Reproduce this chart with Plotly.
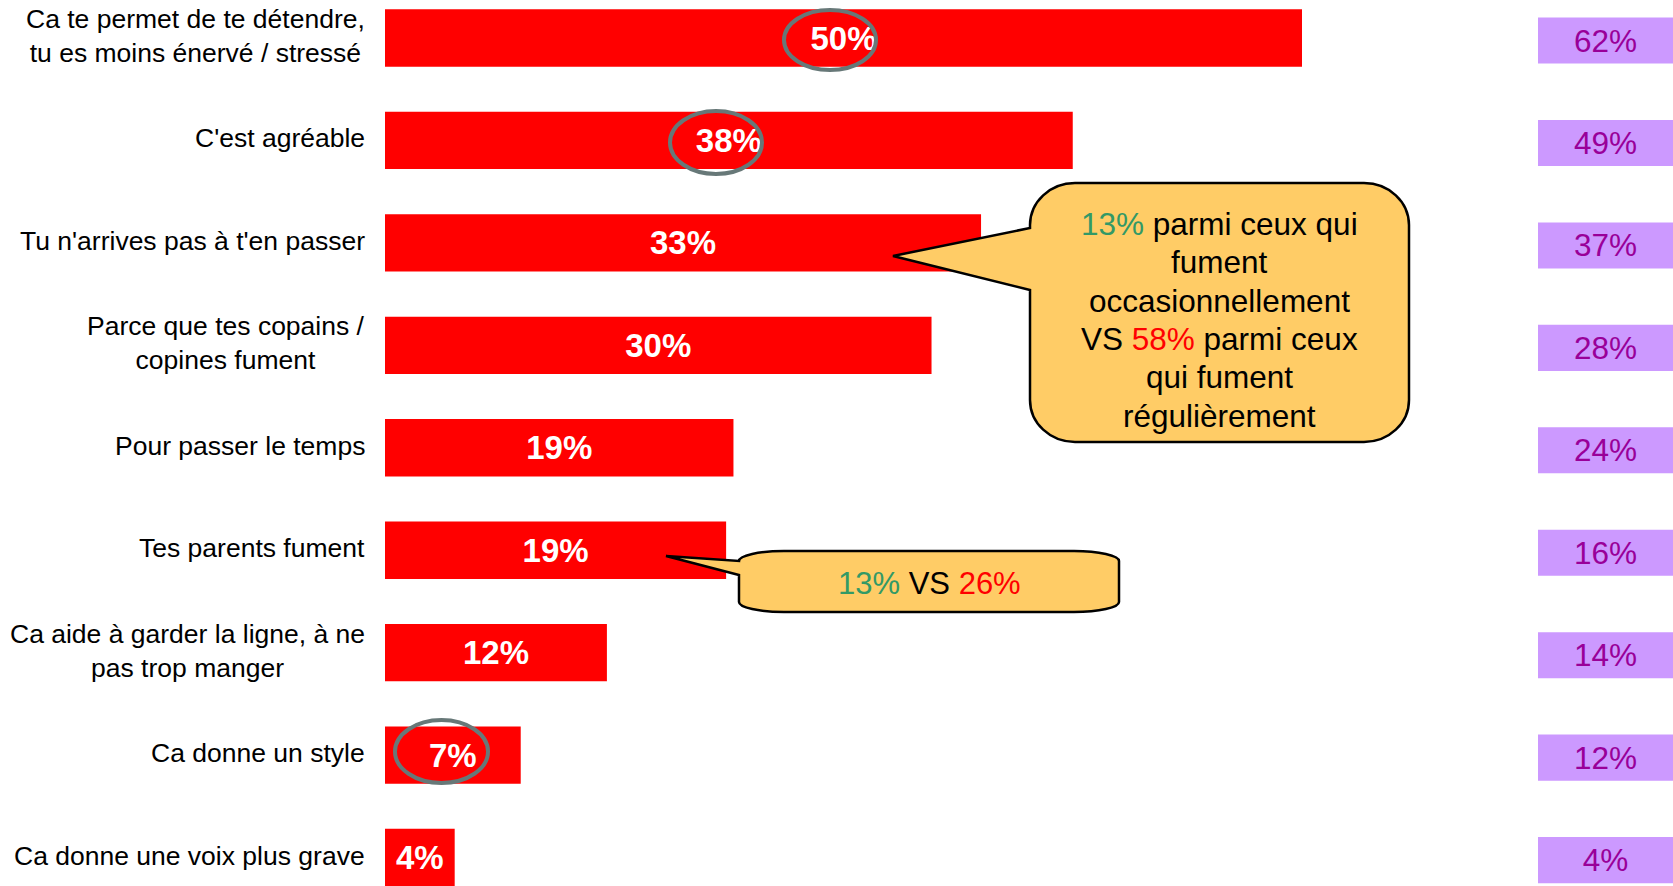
import plotly.graph_objects as go

# ---------------- data ----------------
categories = [
    "Ca te permet de te détendre,<br>tu es moins énervé / stressé",
    "C'est agréable",
    "Tu n'arrives pas à t'en passer",
    "Parce que tes copains /<br>copines fument",
    "Pour passer le temps",
    "Tes parents fument",
    "Ca aide à garder la ligne, à ne<br>pas trop manger",
    "Ca donne un style",
    "Ca donne une voix plus grave",
]
current_values = [50.0, 37.5, 32.5, 29.8, 19.0, 18.6, 12.1, 7.4, 3.8]
current_labels = ["50%", "38%", "33%", "30%", "19%", "19%", "12%", "7%", "4%"]
previous_values = [62, 49, 37, 28, 24, 16, 14, 12, 4]
previous_labels = [f"{v}%" for v in previous_values]

# ---------------- geometry helpers ----------------
W, H = 1673, 886
L = 385                     # pixel position of the value 0
PX_PER_PCT = 18.34
X_MAX = (W - L) / PX_PER_PCT
ROW0, ROW_STEP = 38.0, 102.44
Y_RANGE = [(H - ROW0) / ROW_STEP, -ROW0 / ROW_STEP]
PREV_BASE = (1538 - L) / PX_PER_PCT
PREV_WIDTH = X_MAX - PREV_BASE

FONT = "Liberation Sans, Arial, sans-serif"
GREEN = "#339966"
RED = "#FF0000"


def px(x):
    return (x - L) / (W - L)


def py(y):
    return 1 - y / H


def pt(x, y):
    return f"{px(x):.5f},{py(y):.5f}"


def bubble_path(x0, y0, x1, y1, rx, ry, tip, j_top, j_bot):
    k = 0.5523
    d = f"M{pt(x0 + rx, y0)} L{pt(x1 - rx, y0)} "
    d += f"C{pt(x1 - rx + k * rx, y0)} {pt(x1, y0 + ry - k * ry)} {pt(x1, y0 + ry)} "
    d += f"L{pt(x1, y1 - ry)} "
    d += f"C{pt(x1, y1 - ry + k * ry)} {pt(x1 - rx + k * rx, y1)} {pt(x1 - rx, y1)} "
    d += f"L{pt(x0 + rx, y1)} "
    d += f"C{pt(x0 + rx - k * rx, y1)} {pt(x0, y1 - ry + k * ry)} {pt(x0, y1 - ry)} "
    d += f"L{pt(x0, j_bot)} L{pt(*tip)} L{pt(x0, j_top)} L{pt(x0, y0 + ry)} "
    d += f"C{pt(x0, y0 + ry - k * ry)} {pt(x0 + rx - k * rx, y0)} {pt(x0 + rx, y0)} Z"
    return d


# ---------------- figure ----------------
fig = go.Figure()

fig.add_trace(go.Bar(
    y=categories, x=current_values, orientation="h",
    marker=dict(color="#FF0000", line=dict(width=0)),
    width=0.56,
    text=current_labels, textposition="inside", insidetextanchor="middle",
    textangle=0,
    textfont=dict(family=FONT, size=33, color="white", weight="bold"),
    hoverinfo="skip", showlegend=False,
))

fig.add_trace(go.Bar(
    y=categories, x=[PREV_WIDTH] * len(previous_values),
    base=[PREV_BASE] * len(previous_values), orientation="h",
    marker=dict(color="#CC99FF", line=dict(width=0)),
    width=0.45, offset=-0.2,
    text=previous_labels, textposition="inside", insidetextanchor="middle",
    textangle=0,
    textfont=dict(family=FONT, size=31.5, color="#990099"),
    hoverinfo="skip", showlegend=False,
))

annotations = []
for c in categories:
    annotations.append(dict(
        x=px(367), xref="paper", y=c, yref="y", text=c, yshift=2,
        xanchor="right", yanchor="middle", align="center", showarrow=False,
        font=dict(family=FONT, size=26.5, color="black"),
    ))

big_lines = [
    f"<span style='color:{GREEN}'>13%</span> parmi ceux qui",
    "fument",
    "occasionnellement",
    f"VS <span style='color:{RED}'>58%</span> parmi ceux",
    "qui fument",
    "régulièrement",
]
for i, t in enumerate(big_lines):
    annotations.append(dict(
        x=px(1219.5), xref="paper", y=py(224 + i * 38.3), yref="paper", text=t,
        xanchor="center", yanchor="middle", showarrow=False,
        font=dict(family=FONT, size=31.5, color="black"),
    ))

annotations.append(dict(
    x=px(929), xref="paper", y=py(583.5), yref="paper",
    text=f"<span style='color:{GREEN}'>13%</span> VS <span style='color:{RED}'>26%</span>",
    xanchor="center", yanchor="middle", showarrow=False,
    font=dict(family=FONT, size=31, color="black"),
))

shapes = [
    dict(type="path", xref="paper", yref="paper", layer="above",
         path=bubble_path(1030, 183, 1409, 442, 45, 42, (893, 256), 228, 290),
         fillcolor="#FFCC66", line=dict(color="black", width=2.5)),
    dict(type="path", xref="paper", yref="paper", layer="above",
         path=bubble_path(739, 551, 1119, 612, 45, 10, (666, 556), 561, 575),
         fillcolor="#FFCC66", line=dict(color="black", width=2.5)),
]
for (x0, y0, x1, y1) in [(784, 10, 876, 70), (670, 111, 762, 174), (395, 720, 488, 783)]:
    shapes.append(dict(type="circle", xref="paper", yref="paper", layer="above",
                       x0=px(x0), x1=px(x1), y0=py(y1), y1=py(y0),
                       line=dict(color="#677878", width=4), fillcolor="rgba(0,0,0,0)"))

fig.update_layout(
    width=W, height=H,
    margin=dict(l=L, r=0, t=0, b=0, pad=0),
    barmode="overlay",
    plot_bgcolor="white", paper_bgcolor="white",
    xaxis=dict(range=[0, X_MAX], visible=False, fixedrange=True),
    yaxis=dict(range=Y_RANGE, showticklabels=False, showgrid=False,
               zeroline=False, showline=False, ticks="", fixedrange=True),
    annotations=annotations,
    shapes=shapes,
    hovermode=False,
    showlegend=False,
)

fig.write_html("out.html", config={"displayModeBar": False, "staticPlot": True},
               post_script="document.body.style.margin='0';document.body.style.overflow='hidden';")
